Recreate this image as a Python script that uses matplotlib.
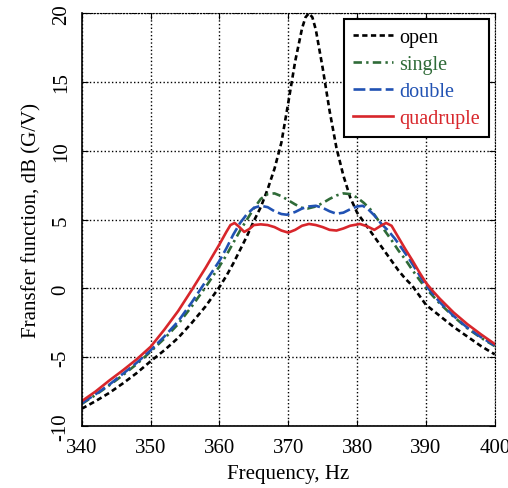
import matplotlib.pyplot as plt

# -----------------------
# DATOS
# -----------------------
f_open = [340, 342, 344, 346, 348, 350, 352, 354, 356, 358, 360, 361, 362, 363, 364,
          365, 366, 367, 368, 369, 370, 371, 372, 372.5, 373, 373.5, 374, 375, 376,
          377, 378, 379, 380, 381, 382, 383, 384, 385, 386, 387, 388, 389, 390, 392,
          394, 396, 398, 400]
db_open = [-8.75, -8.2, -7.6, -6.9, -6.15, -5.3, -4.5, -3.6, -2.5, -1.3, 0.1, 0.9, 1.8,
           2.8, 3.8, 4.9, 5.9, 7.2, 8.7, 10.6, 13.5, 16.5, 18.9, 19.7, 20.0, 19.7, 18.8,
           16.0, 12.9, 10.2, 8.2, 6.6, 5.5, 4.8, 4.1, 3.4, 2.7, 2.0, 1.3, 0.7, 0.2,
           -0.5, -1.2, -2.0, -2.8, -3.5, -4.2, -4.8]

f_single = [340, 342, 344, 346, 348, 350, 352, 354, 356, 358, 360, 361, 362, 363, 364,
            365, 366, 367, 368, 369, 370, 371, 372, 372.8, 374, 375, 376, 377, 378,
            379, 380, 381, 382, 383, 384, 385, 386, 387, 388, 389, 390, 392, 394, 396,
            398, 400]
db_single = [-8.4, -7.75, -7.05, -6.3, -5.5, -4.6, -3.65, -2.6, -1.3, 0.1, 1.6, 2.4,
             3.3, 4.2, 5.0, 5.8, 6.5, 6.85, 6.9, 6.7, 6.4, 6.1, 5.85, 5.8, 5.95, 6.2,
             6.5, 6.75, 6.9, 6.85, 6.6, 6.2, 5.7, 5.0, 4.2, 3.5, 2.75, 2.1, 1.35, 0.65,
             0.0, -1.1, -2.05, -2.9, -3.6, -4.2]

f_double = [340, 342, 344, 346, 348, 350, 352, 354, 356, 358, 360, 361, 362, 363, 364,
            365, 366, 367, 368, 369, 369.8, 371, 372, 373, 374, 375, 376, 377, 378,
            379, 380, 380.8, 381.5, 382.5, 383.5, 384.5, 385.5, 386.5, 387.6, 389, 390,
            392, 394, 396, 398, 400]
db_double = [-8.35, -7.7, -7.0, -6.2, -5.4, -4.5, -3.5, -2.4, -1.0, 0.5, 2.0, 2.9, 3.9,
             4.75, 5.4, 5.85, 6.0, 5.9, 5.6, 5.4, 5.35, 5.55, 5.8, 5.95, 6.0, 5.85, 5.6,
             5.42, 5.5, 5.75, 5.95, 6.0, 5.8, 5.3, 4.7, 4.2, 3.6, 2.9, 2.1, 1.0, 0.2,
             -1.0, -2.0, -2.85, -3.55, -4.15]

f_quad = [340, 342, 344, 346, 348, 350, 352, 354, 356, 358, 359, 360, 361, 361.6, 362.2,
          362.8, 363.6, 364.3, 365, 366, 367, 368, 369, 370, 371, 372, 373, 374, 375,
          376, 377, 378, 379, 380.4, 381.5, 382.5, 383.3, 384.2, 385, 386, 387, 388,
          389, 390, 391, 392, 394, 396, 398, 400]
db_quad = [-8.2, -7.5, -6.7, -5.95, -5.15, -4.25, -3.0, -1.65, -0.1, 1.5, 2.35, 3.2, 4.1,
           4.6, 4.75, 4.5, 4.1, 4.3, 4.6, 4.65, 4.6, 4.45, 4.2, 4.05, 4.25, 4.55, 4.68,
           4.6, 4.45, 4.25, 4.2, 4.35, 4.55, 4.68, 4.5, 4.25, 4.5, 4.75, 4.55, 3.7,
           2.85, 2.05, 1.2, 0.4, -0.2, -0.75, -1.75, -2.6, -3.35, -4.05]

x_ticks = [340, 350, 360, 370, 380, 390, 400]
y_ticks = [-10, -5, 0, 5, 10, 15, 20]

# -----------------------
# GRÁFICO
# -----------------------
plt.rcParams["font.family"] = ["Liberation Serif", "DejaVu Serif"]
plt.rcParams["axes.unicode_minus"] = False

VERDE = "#2f6b38"
AZUL = "#2152b3"
ROJO = "#d8262b"

fig = plt.figure(figsize=(5.08, 4.89), dpi=100)
ax = fig.add_axes([0.161, 0.127, 0.813, 0.844])

ax.plot(f_open, db_open, color="black", lw=1.9, dashes=(2.0, 1.3), label="open")
ax.plot(f_single, db_single, color=VERDE, lw=1.9, dashes=(3.2, 1.6, 0.9, 1.6), label="single")
ax.plot(f_double, db_double, color=AZUL, lw=1.9, dashes=(4.5, 1.6), label="double")
ax.plot(f_quad, db_quad, color=ROJO, lw=1.9, label="quadruple")

ax.set_xlim(340, 400)
ax.set_ylim(-10, 20)
ax.set_xticks(x_ticks)
ax.set_yticks(y_ticks)
ax.tick_params(direction="in", length=4, labelsize=15, top=True, right=True)
ax.tick_params(axis="x", pad=9)
ax.tick_params(axis="y", pad=8)
for lab in ax.get_yticklabels():
    lab.set_rotation(90)
    lab.set_va("center")
ax.grid(True, color="black", linestyle=":", lw=1.0)
ax.spines[["left", "bottom"]].set_linewidth(1.2)
ax.spines[["top", "right"]].set_linestyle(":")

ax.set_xlabel("Frequency, Hz", fontsize=15, labelpad=5)
ax.set_ylabel("Fransfer function, dB (G/V)", fontsize=15, labelpad=7)

leg = ax.legend(loc="upper right", fontsize=14.5, handlelength=2.0, handletextpad=0.3,
                borderpad=0.45, labelspacing=0.38, fancybox=False, framealpha=1,
                edgecolor="black", borderaxespad=0.3)
leg.get_frame().set_linewidth(1.5)
for txt, c in zip(leg.get_texts(), ["black", VERDE, AZUL, ROJO]):
    txt.set_color(c)

plt.savefig("out.png", dpi=100)
